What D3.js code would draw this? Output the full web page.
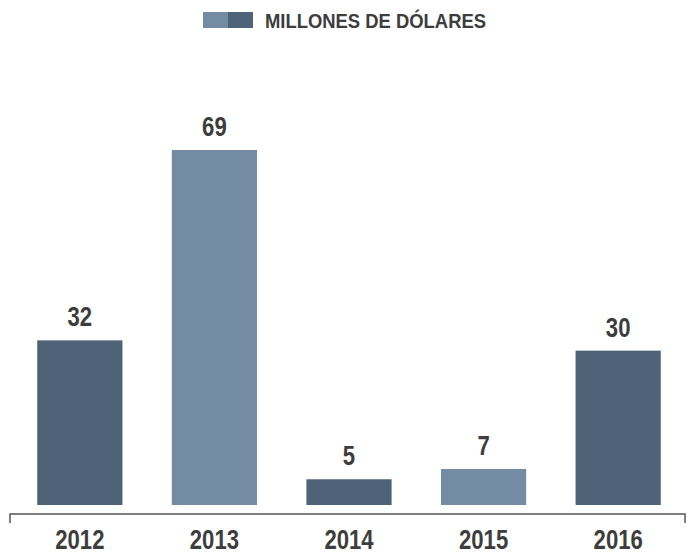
<!DOCTYPE html>
<html lang="es">
<head>
    <meta charset="UTF-8">
    <title>Millones de dólares</title>
    <script src="https://d3js.org/d3.v7.min.js"></script>
    <style>
      body { margin: 0; background: #fff; }
      text { font-family: "Liberation Sans", Arial, sans-serif; font-weight: bold; fill: #3d3d3d; }
    </style>
</head>
<body>
    <svg id="chart"></svg>

    <script>
      // data
      var years = ["2012", "2013", "2014", "2015", "2016"];
      var values = [32, 69, 5, 7, 30];
      var shades = ["dark", "light", "dark", "light", "dark"];
      var legendLabel = "MILLONES DE DÓLARES";

      var colors = { dark: "#4f6378", light: "#738ba3" };

      var width = 691, height = 553;
      var narrow = 0.82; // squeeze to look like a condensed face

      var svg = d3.select("#chart")
          .attr("width", width)
          .attr("height", height);

      var x = d3.scaleBand()
          .domain(years)
          .range([13, 685])
          .paddingInner(0.367)
          .paddingOuter(0.18);

      var y = d3.scaleLinear()
          .domain([0, 69])
          .range([505, 150]);

      // bars
      svg.selectAll(".bar")
          .data(years)
        .enter().append("rect")
          .attr("class", "bar")
          .attr("x", function (d) { return x(d); })
          .attr("y", function (d, i) { return y(values[i]); })
          .attr("width", x.bandwidth())
          .attr("height", function (d, i) { return y(0) - y(values[i]); })
          .attr("fill", function (d, i) { return colors[shades[i]]; });

      // value labels
      svg.selectAll(".val")
          .data(years)
        .enter().append("text")
          .attr("class", "val")
          .attr("transform", function (d, i) {
              return "translate(" + (x(d) + x.bandwidth() / 2) + "," + (y(values[i]) - 14) + ") scale(" + narrow + ",1)";
          })
          .attr("text-anchor", "middle")
          .attr("font-size", 27)
          .text(function (d, i) { return values[i]; });

      // axis line with end ticks
      var axisY = 514;
      svg.append("path")
          .attr("d", "M10," + (axisY + 9) + "V" + axisY + "H685V" + (axisY + 9))
          .attr("fill", "none")
          .attr("stroke", "#555")
          .attr("stroke-width", 1.5);

      // year labels
      svg.selectAll(".year")
          .data(years)
        .enter().append("text")
          .attr("class", "year")
          .attr("transform", function (d) {
              return "translate(" + (x(d) + x.bandwidth() / 2) + "," + (axisY + 35) + ") scale(" + narrow + ",1)";
          })
          .attr("text-anchor", "middle")
          .attr("font-size", 27)
          .text(function (d) { return d; });

      // legend
      var legend = svg.append("g").attr("transform", "translate(203,12)");
      legend.append("rect").attr("width", 25).attr("height", 16).attr("fill", colors.light);
      legend.append("rect").attr("x", 25).attr("width", 25).attr("height", 16).attr("fill", colors.dark);
      legend.append("text")
          .attr("x", 62)
          .attr("y", 16)
          .attr("font-size", 21)
          .attr("textLength", 221)
          .attr("lengthAdjust", "spacingAndGlyphs")
          .text(legendLabel);
    </script>
</body>
</html>
